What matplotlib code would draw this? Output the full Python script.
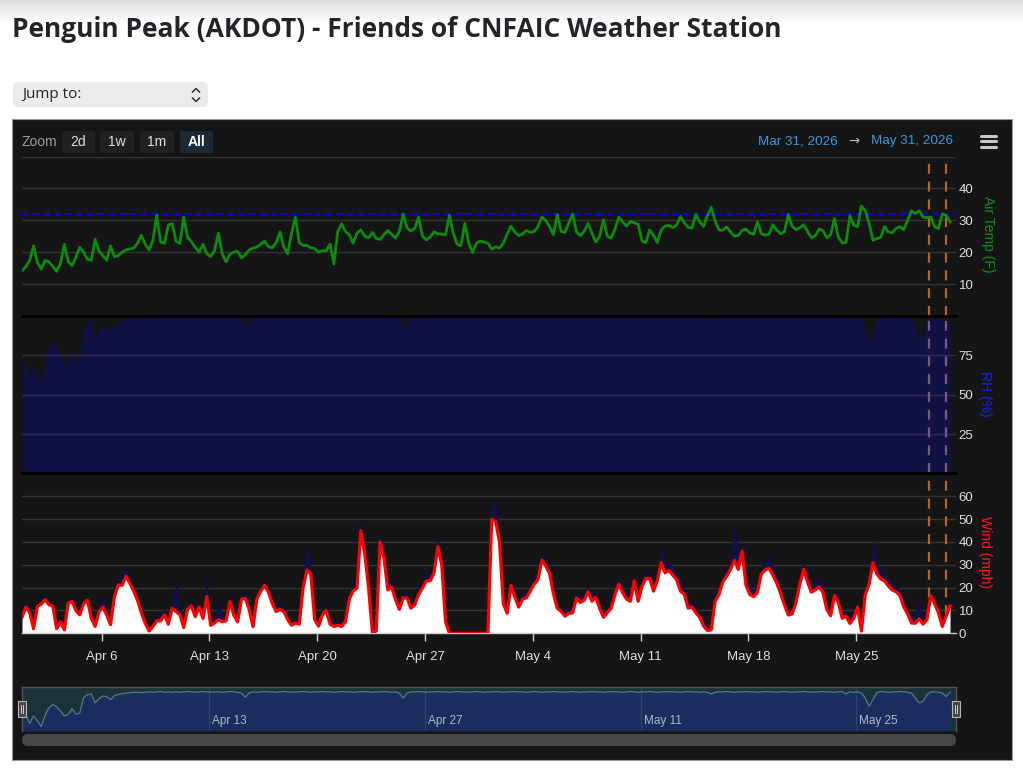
import numpy as np
import pandas as pd
import matplotlib
matplotlib.use("Agg")
import matplotlib.pyplot as plt
import matplotlib.dates as mdates
from matplotlib.patches import Rectangle, FancyBboxPatch
from matplotlib.colors import LinearSegmentedColormap

plt.rcParams['font.family'] = ['Liberation Sans', 'DejaVu Sans']

# ---------------- data (6-hourly readings) ----------------
START = "2026-03-31 20:00"
STEP = "6h"

air_temp = [
    14.2, 15.5, 17.4, 22.0, 16.8, 14.7, 17.4, 17.0, 15.5, 14.0,
    16.5, 22.5, 17.0, 15.8, 18.5, 21.5, 20.0, 17.8, 17.5, 24.0,
    20.3, 19.0, 17.5, 22.0, 18.6, 18.9, 20.0, 20.7, 21.0, 21.3,
    22.8, 25.3, 22.5, 20.7, 23.7, 31.6, 23.2, 22.8, 28.5, 29.0,
    23.5, 22.7, 31.0, 24.7, 23.3, 21.5, 20.0, 22.5, 19.5, 18.7,
    20.5, 26.0, 19.5, 17.0, 19.4, 20.0, 20.3, 18.2, 19.2, 20.7,
    21.3, 21.6, 22.5, 23.5, 21.7, 21.4, 23.0, 26.3, 21.6, 19.5,
    26.0, 31.0, 23.0, 22.1, 22.1, 21.4, 21.1, 20.0, 20.5, 20.5,
    22.5, 16.3, 26.5, 28.9, 26.5, 25.5, 22.8, 26.0, 27.0, 25.0,
    24.5, 26.2, 24.3, 24.0, 25.5, 26.8, 25.6, 24.4, 26.5, 32.0,
    27.6, 26.6, 27.5, 31.0, 25.0, 23.9, 24.7, 26.4, 25.8, 25.6,
    25.5, 31.5, 26.0, 22.5, 22.0, 29.0, 23.0, 19.9, 22.8, 23.5,
    23.2, 22.8, 20.9, 21.7, 21.3, 22.8, 25.7, 28.2, 26.3, 25.2,
    25.7, 26.8, 26.2, 26.5, 28.0, 31.0, 30.0, 28.0, 25.5, 31.8,
    26.5, 26.2, 29.2, 32.0, 26.3, 25.2, 26.5, 29.0, 26.0, 23.2,
    25.0, 30.2, 25.0, 24.4, 27.3, 31.0, 29.5, 28.2, 29.7, 29.2,
    28.8, 23.5, 23.0, 27.0, 25.3, 23.0, 27.0, 28.2, 28.4, 27.7,
    28.5, 31.2, 29.2, 27.8, 27.6, 31.8, 29.5, 28.1, 31.5, 34.0,
    29.8, 27.0, 26.9, 27.9, 26.3, 25.1, 25.2, 26.8, 27.3, 26.0,
    25.6, 29.5, 25.8, 25.3, 25.7, 28.6, 26.9, 25.8, 26.4, 31.8,
    28.2, 27.1, 27.6, 28.6, 26.5, 24.5, 25.1, 27.3, 26.8, 24.5,
    25.5, 30.5, 24.8, 22.9, 23.0, 31.4, 28.5, 28.0, 34.5, 33.0,
    29.0, 23.8, 24.3, 24.7, 28.0, 26.3, 26.1, 27.5, 28.0, 27.1,
    30.0, 33.0, 32.1, 33.0, 31.0, 30.8, 31.0, 28.0, 27.4, 32.0,
    31.5, 29.5,
]

rel_hum = [
    72.5, 70.8, 61, 70, 64, 57, 71, 80, 84, 81,
    76, 70, 71.5, 79, 72, 73.6, 92.6, 96, 97, 86,
    91, 94.5, 93.5, 90, 95, 96.4, 97.3, 98, 98.5, 99,
    99, 98.5, 99, 99.5, 99, 99.5, 100, 99, 99.5, 99,
    99.5, 99, 99.5, 100, 99.5, 99, 99.5, 100, 99.5, 99,
    99.5, 99.5, 99, 99.5, 100, 99.5, 99, 98, 93, 98.5,
    99.5, 99, 99.5, 100, 99.5, 99.5, 99, 99.5, 100, 99.5,
    99, 99.5, 99.5, 100, 99.5, 99, 99.5, 99.5, 100, 99.5,
    99.5, 99, 99.5, 100, 99.5, 99.5, 99, 99.5, 99.5, 100,
    99.5, 99, 99.5, 99.5, 100, 99.5, 99, 99.5, 98, 92,
    98, 99.5, 99.5, 100, 99.5, 99, 99.5, 99.5, 100, 99.5,
    99.5, 99, 99.5, 100, 99.5, 99.5, 99, 99.5, 100, 99.5,
    99, 99.5, 99.5, 100, 99.5, 99, 99.5, 99.5, 100, 99.5,
    99.5, 99, 99.5, 100, 99.5, 99, 99.5, 99.5, 100, 99.5,
    99.5, 99, 99.5, 100, 99.5, 99, 99.5, 99.5, 100, 99.5,
    99.5, 99, 99.5, 100, 99.5, 99.5, 99, 99.5, 100, 99.5,
    99, 99.5, 99.5, 100, 99.5, 99, 99.5, 99.5, 100, 99.5,
    99.5, 99, 99.5, 100, 99.5, 99.5, 99, 99.5, 99, 97,
    99, 99.5, 99.5, 100, 99.5, 99, 99.5, 99.5, 100, 99.5,
    99.5, 99, 99.5, 100, 99.5, 99.5, 99, 99.5, 100, 99.5,
    99, 99.5, 99.5, 100, 99.5, 99, 99.5, 99.5, 100, 99.5,
    99.5, 99, 99.5, 100, 97, 99.5, 99, 99.5, 98, 92,
    82, 90, 98.5, 100, 99.5, 99, 99.5, 99.5, 100, 99.5,
    99, 98, 92, 86, 88, 96, 99.5, 99.5, 99, 98,
    94, 99,
]

wind_avg = [
    7.0, 11.5, 9.0, 2.0, 11.7, 12.8, 14.7, 12.5, 12.0, 2.0,
    5.0, 1.5, 13.2, 14.0, 10.0, 8.1, 13.0, 14.5, 6.5, 3.0,
    9.5, 11.5, 8.0, 3.8, 16.0, 21.2, 21.0, 25.0, 22.0, 18.5,
    14.5, 9.0, 4.4, 1.0, 3.0, 5.5, 5.5, 8.1, 4.0, 11.0,
    9.5, 8.2, 2.5, 10.5, 12.0, 7.3, 11.5, 6.5, 16.1, 3.5,
    4.5, 6.0, 5.0, 5.5, 13.9, 8.0, 5.0, 15.0, 15.3, 10.5,
    2.9, 15.0, 18.5, 21.0, 18.0, 13.0, 9.5, 10.5, 9.5, 6.0,
    3.5, 4.5, 4.0, 20.0, 27.8, 26.0, 6.0, 3.1, 8.0, 10.0,
    4.0, 3.0, 3.5, 3.0, 5.0, 15.0, 18.5, 19.8, 45.0, 35.0,
    20.0, 0.3, 1.0, 40.0, 33.0, 19.0, 20.3, 14.8, 10.5, 15.5,
    15.5, 11.0, 12.5, 17.0, 19.8, 23.0, 23.0, 26.4, 38.0, 30.0,
    5.0, 0.0, 0.0, 0.0, 0.0, 0.0, 0.0, 0.0, 0.0, 0.0,
    0.0, 0.0, 50.0, 49.0, 40.0, 13.0, 8.8, 21.0, 15.8, 11.5,
    15.0, 15.5, 18.5, 21.5, 23.5, 32.0, 29.5, 26.3, 17.5, 11.0,
    9.6, 7.5, 8.7, 9.0, 15.5, 13.5, 14.5, 18.2, 14.0, 15.8,
    11.0, 7.0, 9.0, 11.0, 17.0, 21.5, 17.8, 15.0, 14.0, 23.0,
    14.0, 20.5, 24.0, 24.0, 18.5, 23.0, 31.0, 26.5, 27.5, 25.5,
    23.5, 18.5, 17.0, 11.0, 11.5, 9.0, 7.0, 3.2, 1.2, 1.5,
    14.0, 17.0, 22.5, 25.0, 28.0, 32.0, 28.0, 36.0, 21.2, 17.0,
    16.0, 18.0, 26.0, 27.8, 28.5, 25.5, 22.0, 17.5, 12.5, 8.0,
    8.5, 13.5, 21.5, 28.0, 22.5, 18.0, 19.0, 20.3, 18.0, 10.5,
    7.7, 16.5, 13.5, 6.6, 7.5, 4.3, 6.5, 11.5, 1.0, 17.0,
    21.5, 31.0, 26.0, 23.8, 23.0, 20.7, 19.0, 18.2, 16.5, 11.5,
    8.5, 4.5, 4.4, 6.4, 4.0, 6.0, 16.5, 13.0, 9.0, 3.0,
    7.5, 12.0,
]

wind_gust = [
    9, 14, 11, 4, 14, 15, 17, 14, 14, 4,
    7, 3, 15, 16, 13, 10, 15, 17, 8, 5,
    12, 16.8, 10, 6, 19, 24, 26, 29, 25, 21,
    17, 11, 6, 2, 5, 8, 8, 11, 6, 14,
    22.7, 11, 4, 13, 14, 9, 14, 9, 25.6, 6,
    7, 14.6, 7, 8, 17, 11, 7, 18, 18, 13,
    5, 18, 21, 22.7, 21, 15, 12, 13, 12, 8,
    5, 7, 6, 25, 39.5, 30, 8, 5, 10, 13,
    6, 5, 5, 5, 7, 18, 21, 22, 50.5, 38,
    23, 0.5, 2, 45.4, 36, 22, 23, 17, 13, 18,
    18, 14, 15, 20, 22, 26, 26, 29, 43, 33,
    7, 0, 0, 0, 0, 0, 0, 0, 0, 0,
    0, 0, 55, 60, 44, 16, 11, 24, 19, 14,
    18, 18, 21, 24, 26, 36, 32, 29, 20, 13,
    12, 10, 11, 12, 18, 16, 17, 21, 17, 18,
    14, 9, 11, 14, 20, 25, 21, 18, 17, 26,
    17, 24, 27, 27, 22, 26, 39.5, 31, 31, 29,
    27, 22, 20, 14, 14, 11, 9, 5, 3, 3,
    17, 20, 26, 28, 31, 49, 34, 40, 25, 20,
    19, 21, 30, 31, 35, 29, 25, 20, 15, 10,
    11, 16, 25, 32, 26, 21, 22, 24, 21, 13,
    10, 19, 16, 9, 10, 7, 9, 14, 3, 20,
    25, 41.7, 31, 28, 27, 24, 22, 21, 19, 14,
    11, 7, 8, 16.8, 6, 8, 18, 15, 11, 5,
    9, 14,
]

freezing_line = 32
marker_times = ["2026-05-29 17:00", "2026-05-30 19:30"]
x_range = ["2026-03-31 20:00", "2026-05-31 11:20"]

tick_dates = ["2026-04-06", "2026-04-13", "2026-04-20", "2026-04-27",
              "2026-05-04", "2026-05-11", "2026-05-18", "2026-05-25"]
tick_labels = ["Apr 6", "Apr 13", "Apr 20", "Apr 27",
               "May 4", "May 11", "May 18", "May 25"]
nav_tick_dates = ["2026-04-13", "2026-04-27", "2026-05-11", "2026-05-25"]
nav_tick_labels = ["Apr 13", "Apr 27", "May 11", "May 25"]

temp_ticks = [10, 20, 30, 40]
rh_ticks = [25, 50, 75]
wind_ticks = [0, 10, 20, 30, 40, 50, 60]

title = "Penguin Peak (AKDOT) - Friends of CNFAIC Weather Station"
range_from, range_to = "Mar 31, 2026", "May 31, 2026"
zoom_buttons = ["2d", "1w", "1m", "All"]

# ---------------- figure ----------------
W, H = 1023, 770
fig = plt.figure(figsize=(W / 100, H / 100), dpi=100, facecolor="white")

times = pd.date_range(START, periods=len(air_temp), freq=STEP)
tnum = mdates.date2num(times.to_pydatetime())
x0, x1 = [mdates.date2num(pd.Timestamp(s).to_pydatetime()) for s in x_range]
tick_num = [mdates.date2num(pd.Timestamp(s).to_pydatetime()) for s in tick_dates]
nav_num = [mdates.date2num(pd.Timestamp(s).to_pydatetime()) for s in nav_tick_dates]
mark_num = [mdates.date2num(pd.Timestamp(s).to_pydatetime()) for s in marker_times]

# background layer (pixel coordinates)
bg = fig.add_axes([0, 0, 1, 1], zorder=-10)
grad = LinearSegmentedColormap.from_list("g", ["#dedede", "#ffffff"])
bg.imshow(np.linspace(0, 1, 40).reshape(-1, 1), extent=(0, W, 24, 0),
          cmap=grad, aspect="auto")
bg.set_xlim(0, W)
bg.set_ylim(H, 0)
bg.axis("off")

bg.text(12, 29.5, title, fontsize=19, fontweight="bold", family="Open Sans",
        color="#212529", va="center", ha="left")

bg.add_patch(FancyBboxPatch((13, 82), 195, 25,
                            boxstyle="round,pad=0,rounding_size=5",
                            fc="#ebebeb", ec="none"))
bg.text(22, 95, "Jump to:", fontsize=11, family="Open Sans",
        color="#212529", va="center", ha="left")
bg.plot([192.5, 196, 199.5], [92, 88.5, 92], color="#333333", lw=1.1)
bg.plot([192.5, 196, 199.5], [98, 101.5, 98], color="#333333", lw=1.1)

# dark chart panel
bg.add_patch(Rectangle((12, 119), 1000, 641, fc="#151515", ec="#9a9a9a", lw=0.8))

# zoom buttons
bg.text(22, 142, "Zoom", fontsize=10, color="#9c9c9c", va="center", ha="left")
btn_x = [(62, 33), (100, 34), (140, 34), (180, 33)]
for (bx, bw), lab in zip(btn_x, zoom_buttons):
    sel = lab == "All"
    bg.add_patch(FancyBboxPatch((bx, 131), bw, 22,
                                boxstyle="round,pad=0,rounding_size=2",
                                fc="#1b2a36" if sel else "#202020", ec="none"))
    bg.text(bx + bw / 2, 142.5, lab, fontsize=10, ha="center", va="center",
            color="white" if sel else "#dddddd",
            fontweight="bold" if sel else "normal")

bg.text(838, 141, range_from, fontsize=9.7, color="#3c98dc", ha="right", va="center")
bg.text(854, 141, "\u2192", fontsize=9.5, color="#bbbbbb", ha="center", va="center",
        family="DejaVu Sans")
bg.text(871, 141, range_to, fontsize=9.7, color="#3c98dc", ha="left", va="center")
for yy in (135.5, 141, 146.5):
    bg.plot([981, 996], [yy, yy], color="#c8c8c8", lw=2.2, solid_capstyle="round")

# ---------------- panes ----------------
PL, PR = 22, 956


def pane(top, bot, z=1):
    a = fig.add_axes([PL / W, 1 - bot / H, (PR - PL) / W, (bot - top) / H], zorder=z)
    a.patch.set_alpha(0)
    for s in a.spines.values():
        s.set_visible(False)
    a.set_xlim(x0, x1)
    a.yaxis.tick_right()
    a.tick_params(axis="y", length=0, pad=1.8, labelsize=9.5, labelcolor="#dedede")
    a.tick_params(axis="x", length=0, labelbottom=False)
    return a


# Air temperature
ax_t = pane(156.5, 316)
ax_t.set_ylim(0, 50)
for v in [10, 20, 30, 40, 50]:
    ax_t.axhline(v, color="#333333", lw=1, zorder=0)
for m in mark_num:
    ax_t.axvline(m, color="#b0662a", lw=1.6, ls=(0, (4.5, 3.5)), zorder=1)
ax_t.axhline(freezing_line, color="#0000ff", lw=1.3, ls=(0, (3.5, 2.5)), zorder=2)
ax_t.plot(tnum, air_temp, color="#0b8c0b", lw=2.0, zorder=3)
ax_t.set_yticks(temp_ticks)
ax_t.set_xticks([])

# Relative humidity
ax_r = pane(316, 473.5)
ax_r.set_ylim(0, 100)
ax_r.fill_between(tnum, rel_hum, 0, color="#121143", lw=0, zorder=1)
for v in rh_ticks:
    ax_r.axhline(v, color="white", alpha=0.12, lw=1, zorder=2)
for m in mark_num:
    ax_r.axvline(m, color="#7a5a7a", lw=1.6, ls=(0, (4.5, 3.5)), zorder=3)
ax_r.axhline(100, color="black", lw=2, zorder=5, clip_on=False)
ax_r.axhline(0, color="black", lw=2, zorder=5, clip_on=False)
ax_r.set_yticks(rh_ticks)
ax_r.set_xticks([])

# Wind
ax_w = pane(473.5, 633.3)
ax_w.set_ylim(0, 70)
for v in wind_ticks[1:]:
    ax_w.axhline(v, color="#333333", lw=1, zorder=0)
for m in mark_num:
    ax_w.axvline(m, color="#b0662a", lw=1.6, ls=(0, (4.5, 3.5)), zorder=0.5)
ax_w.fill_between(tnum, wind_gust, 0, color="#10104a", lw=0, zorder=1)
ax_w.fill_between(tnum, wind_avg, 0, color="white", lw=0, zorder=2)
ax_w.plot(tnum, wind_avg, color="#ff0000", lw=2.3, zorder=3)
ax_w.set_yticks(wind_ticks)
ax_w.spines["bottom"].set_visible(True)
ax_w.spines["bottom"].set_color("#cccccc")
ax_w.spines["bottom"].set_linewidth(1)
ax_w.set_xticks(tick_num)
ax_w.set_xticklabels(tick_labels)
ax_w.tick_params(axis="x", length=6, width=1, color="#cccccc", direction="out",
                 pad=6.5, labelsize=9.5, labelcolor="#dedede", labelbottom=True)

# Navigator
ax_n = pane(687, 731)
ax_n.set_ylim(51.5, 105.5)
ax_n.add_patch(Rectangle((0, 0), 1, 1, transform=ax_n.transAxes,
                         fc="#1c3138", ec="none", zorder=0))
ax_n.fill_between(tnum, rel_hum, 51.5, color="#1b2d5e", lw=0, zorder=1)
for d in nav_num:
    ax_n.axvline(d, color="#2c426e", lw=1, zorder=2)
ax_n.plot(tnum, rel_hum, color="#4f7c84", lw=0.9, zorder=3)
for d, lab in zip(nav_num, nav_tick_labels):
    ax_n.annotate(lab, xy=(d, 0), xycoords=("data", "axes fraction"),
                  xytext=(3, 4), textcoords="offset pixels", ha="left",
                  va="bottom", fontsize=8.5, color="#b0b9c8", zorder=4)
ax_n.set_yticks([])
ax_n.set_xticks([])
for s in ax_n.spines.values():
    s.set_visible(True)
    s.set_color("#555555")
    s.set_linewidth(1)
ax_n.spines["bottom"].set_visible(False)

# foreground layer
fg = fig.add_axes([0, 0, 1, 1], zorder=20)
fg.set_xlim(0, W)
fg.set_ylim(H, 0)
fg.axis("off")

fg.add_patch(FancyBboxPatch((22, 734), 934, 12,
                            boxstyle="round,pad=0,rounding_size=6",
                            fc="#474747", ec="none"))
for hx in (17.8, 952.2):
    fg.add_patch(Rectangle((hx, 701), 8, 16, fc="#474747", ec="#b5b5b5", lw=0.8))
    fg.plot([hx + 3, hx + 3], [705, 713], color="#d0d0d0", lw=0.7)
    fg.plot([hx + 5, hx + 5], [705, 713], color="#d0d0d0", lw=0.7)

fg.text(988, 234, "Air Temp (F)", rotation=270, fontsize=10, color="#0f8f0f",
        ha="center", va="center")
fg.text(985, 394, "RH (%)", rotation=270, fontsize=10, color="#1e1ef2",
        ha="center", va="center")
fg.text(985, 552, "Wind (mph)", rotation=270, fontsize=10, color="#ff1a1a",
        ha="center", va="center")

fig.savefig("out.png", dpi=100, facecolor="white")
